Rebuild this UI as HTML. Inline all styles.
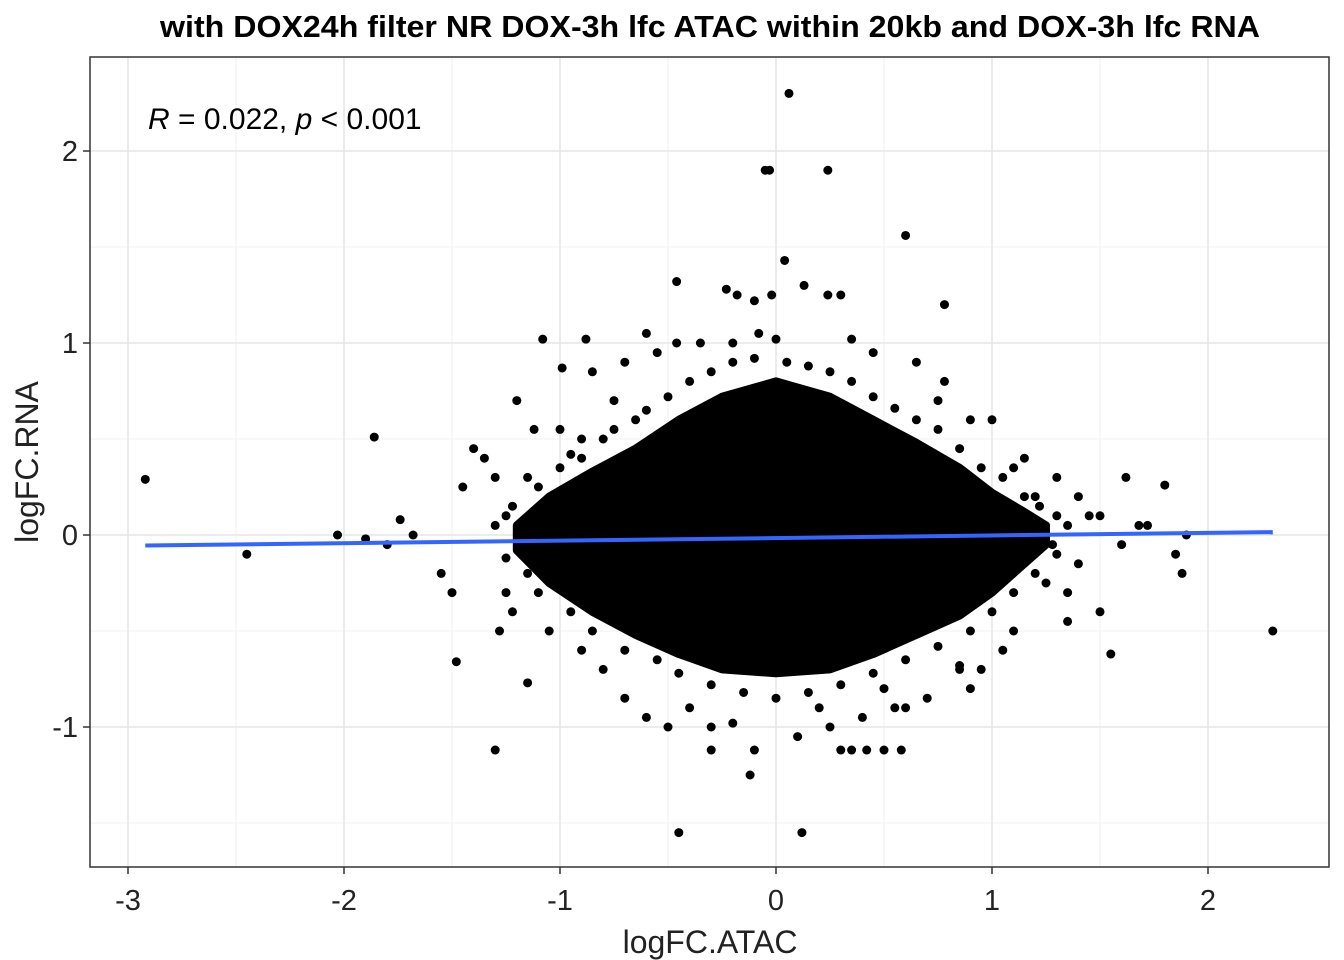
<!DOCTYPE html>
<html><head><meta charset="utf-8"><style>
html,body{margin:0;padding:0;background:#fff;}
svg{display:block;font-family:"Liberation Sans",Arial,sans-serif;}
</style></head><body>
<svg id="chart" width="1344" height="960">
<text x="710" y="37" text-anchor="middle" font-size="31" font-weight="bold" textLength="1100" lengthAdjust="spacingAndGlyphs">with DOX24h filter NR DOX-3h lfc ATAC within 20kb and DOX-3h lfc RNA</text>
<g id="grid"></g>
<g id="core"></g>
<g id="pts"></g>
<g id="fit"></g>
<rect x="90" y="57" width="1239" height="810" fill="none" stroke="#333" stroke-width="1.5"/>
<g id="axes"></g>
<text x="148" y="129" font-size="30"><tspan font-style="italic">R</tspan> = 0.022, <tspan font-style="italic">p</tspan> &lt; 0.001</text>
<text x="710" y="953" text-anchor="middle" font-size="32" fill="#222">logFC.ATAC</text>
<text x="38" y="462" text-anchor="middle" font-size="32" fill="#222" transform="rotate(-90 38 462)">logFC.RNA</text>
</svg>
<script>
const xTicks=[-3,-2,-1,0,1,2];
const yTicks=[-1,0,1,2];
const xMinor=[-2.5,-1.5,-0.5,0.5,1.5];
const yMinor=[-1.5,-0.5,0.5,1.5];
const coreX=[-1.2,-1.05,-0.85,-0.65,-0.45,-0.25,0,0.25,0.45,0.65,0.85,1.0,1.15,1.25];
const coreTop=[0.05,0.2,0.33,0.45,0.6,0.72,0.8,0.72,0.6,0.48,0.35,0.22,0.12,0.05];
const coreBot=[-0.08,-0.25,-0.4,-0.52,-0.62,-0.7,-0.72,-0.7,-0.62,-0.52,-0.42,-0.3,-0.15,-0.05];
const ptX=[0.06,-0.05,-0.03,0.24,0.6,0.04,-0.46,0.13,-0.23,-0.18,-0.1,-0.02,0.24,0.3,0.78,-0.6,-1.08,-0.99,-0.08,0.0,0.35,-0.46,-0.2,-0.88,-1.86,-2.92,-2.45,-2.03,-1.9,-1.8,-1.74,-1.68,-1.55,-1.5,-1.48,-1.35,-1.3,-1.28,-1.22,-1.15,-1.12,-1.2,-1.3,-1.4,1.8,1.88,1.85,1.68,1.6,2.3,1.55,1.5,1.45,1.35,1.3,1.2,1.1,1.05,1.62,1.72,1.9,1.4,-0.7,-0.45,-0.5,-0.3,-0.12,-0.1,0.12,0.3,0.35,0.42,0.5,0.58,0.6,0.9,0.95,1.1,-0.3,-0.6,-0.8,-0.2,0.1,0.25,0.4,0.55,0.7,0.85,-0.85,-0.7,-0.55,-0.35,0.45,0.65,0.78,0.9,-1.0,-0.9,-1.05,1.0,1.15,-0.9,-0.4,0.2,0.5,0.85,-0.75,0.75,-1.25,-1.45,1.25,1.35,1.5,
-1.25,-1.22,-1.3,-1.1,-1.15,-1.0,-0.95,-0.9,-0.8,-0.75,-0.65,-0.6,-0.5,-0.4,-0.3,-0.2,-0.1,0.05,0.15,0.25,0.35,0.45,0.55,0.65,0.75,0.85,0.95,1.05,1.15,1.22,1.3,1.28,1.35,
-1.1,-0.95,-0.85,-0.7,-0.55,-0.45,-0.3,-0.15,0.0,0.15,0.3,0.45,0.6,0.75,0.9,1.0,1.1,1.2,-1.25,-1.15,1.3,1.4];
const ptY=[2.3,1.9,1.9,1.9,1.56,1.43,1.32,1.3,1.28,1.25,1.22,1.25,1.25,1.25,1.2,1.05,1.02,0.87,1.05,1.02,1.02,1.0,1.0,1.02,0.51,0.29,-0.1,0.0,-0.02,-0.05,0.08,0.0,-0.2,-0.3,-0.66,0.4,-1.12,-0.5,-0.4,-0.77,0.55,0.7,0.3,0.45,0.26,-0.2,-0.1,0.05,-0.05,-0.5,-0.62,-0.4,0.1,-0.45,0.3,0.2,0.35,-0.6,0.3,0.05,0.0,0.2,-0.85,-1.55,-1.0,-1.12,-1.25,-1.12,-1.55,-1.12,-1.12,-1.12,-1.12,-1.12,-0.9,-0.8,-0.7,-0.5,-1.0,-0.95,-0.7,-0.98,-1.05,-1.0,-0.95,-0.9,-0.85,-0.68,0.85,0.9,0.95,1.0,0.95,0.9,0.8,0.6,0.55,0.5,-0.5,0.6,0.4,-0.6,-0.9,-0.9,-0.8,-0.7,0.7,0.7,-0.3,0.25,-0.25,-0.3,0.1,
0.1,0.15,0.05,0.25,0.3,0.35,0.42,0.4,0.5,0.55,0.6,0.65,0.72,0.8,0.85,0.9,0.92,0.9,0.88,0.85,0.8,0.72,0.66,0.6,0.55,0.45,0.35,0.3,0.2,0.15,0.1,-0.05,0.05,
-0.3,-0.4,-0.5,-0.6,-0.65,-0.72,-0.78,-0.82,-0.85,-0.82,-0.78,-0.72,-0.65,-0.58,-0.5,-0.4,-0.3,-0.2,-0.12,-0.2,-0.1,-0.15];
const xFit=[-2.92,2.3];
const yFit=[-0.055,0.015];
const X=v=>776+216*v, Y=v=>535-192*v;
const NS='http://www.w3.org/2000/svg';
function mk(t,a,p){const e=document.createElementNS(NS,t);for(const k in a)e.setAttribute(k,a[k]);p.appendChild(e);return e;}
const grid=document.getElementById('grid'),axes=document.getElementById('axes');
mk('rect',{x:90,y:57,width:1239,height:810,fill:'#fff'},grid);
xMinor.forEach(v=>{const l=mk('line',{x1:X(v),x2:X(v),y1:57,y2:867,stroke:'#f2f2f2','stroke-width':1},grid);

});
yMinor.forEach(v=>{const l=mk('line',{x1:90,x2:1329,y1:Y(v),y2:Y(v),stroke:'#f2f2f2','stroke-width':1},grid);

});
xTicks.forEach(v=>{const l=mk('line',{x1:X(v),x2:X(v),y1:57,y2:867,stroke:'#e5e5e5','stroke-width':1.5},grid);


mk('line',{x1:X(v),x2:X(v),y1:867,y2:874,stroke:'#333','stroke-width':1.5},axes);
const t=mk('text',{x:X(v),y:910,'text-anchor':'middle','font-size':29,fill:'#222'},axes);t.textContent=v;

});
yTicks.forEach(v=>{const l=mk('line',{x1:90,x2:1329,y1:Y(v),y2:Y(v),stroke:'#e5e5e5','stroke-width':1.5},grid);


mk('line',{x1:83,x2:90,y1:Y(v),y2:Y(v),stroke:'#333','stroke-width':1.5},axes);
const t=mk('text',{x:78,y:Y(v)+10,'text-anchor':'end','font-size':29,fill:'#222'},axes);t.textContent=v;

});
let d='M'+coreX.map((x,i)=>X(x)+','+Y(coreTop[i])).join('L');
for(let i=coreX.length-1;i>=0;i--)d+='L'+X(coreX[i])+','+Y(coreBot[i]);
const core=mk('path',{d:d+'Z',fill:'#000',stroke:'#000','stroke-width':8,'stroke-linejoin':'round'},document.getElementById('core'));


const pts=document.getElementById('pts');
ptX.forEach((x,i)=>{const c=mk('circle',{cx:X(x),cy:Y(ptY[i]),r:4.5,fill:'#000'},pts);

});
const fl=mk('line',{x1:X(xFit[0]),y1:Y(yFit[0]),x2:X(xFit[1]),y2:Y(yFit[1]),stroke:'#3366FF','stroke-width':4},document.getElementById('fit'));


</script>
</body></html>
